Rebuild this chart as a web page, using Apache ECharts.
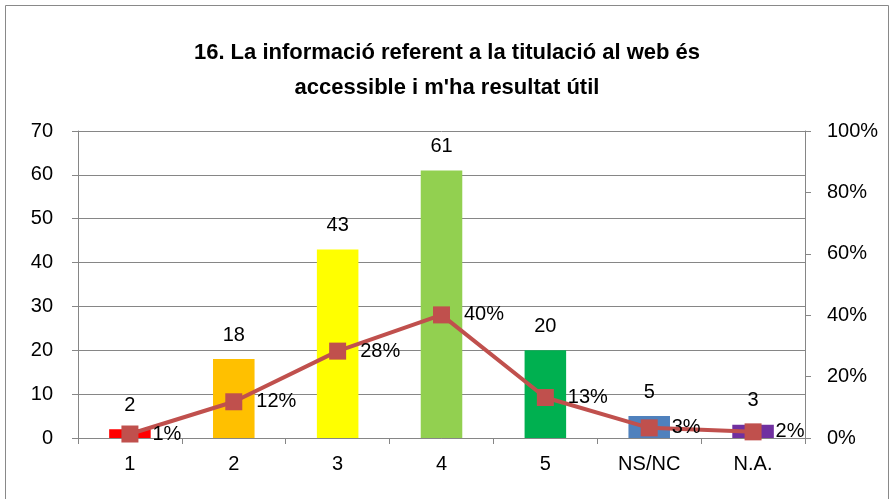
<!DOCTYPE html>
<html><head><meta charset="utf-8">
<script src="https://cdn.jsdelivr.net/npm/echarts@6/dist/echarts.min.js"></script>
<style>html,body{margin:0;padding:0;background:#fff}#c{width:894px;height:499px}</style>
</head><body><div id="c"></div>
<script>
const categories = ['1','2','3','4','5','NS/NC','N.A.'];
const counts = [2,18,43,61,20,5,3];
const percents = [1.3,11.8,28.3,40.1,13.2,3.3,2.0];
const barColors = ['#FF0000','#FFC000','#FFFF00','#92D050','#00B050','#4F81BD','#7030A0'];
const leftTicks = [0,70,10];
const rightTicks = [0,100,20];
const FONT = 'Liberation Sans';
const chart = echarts.init(document.getElementById('c'));
chart.setOption({
  animation:false,
  textStyle:{fontFamily:FONT},
  title:{text:'16. La informació referent a la titulació al web és\naccessible i m\'ha resultat útil',left:'center',top:30,
    textStyle:{fontFamily:FONT,fontWeight:'bold',fontSize:22,color:'#000',lineHeight:35}},
  graphic:[{type:'rect',shape:{x:5.5,y:5.5,width:883,height:500},style:{fill:'none',stroke:'#898989',lineWidth:1},silent:true}],
  grid:{left:78,right:89,top:131,bottom:61},
  xAxis:{type:'category',data:categories,
    axisLine:{lineStyle:{color:'#868686',width:1}},
    axisTick:{show:true,length:6,lineStyle:{color:'#868686'}},
    axisLabel:{color:'#000',fontSize:20,margin:16,fontFamily:FONT}},
  yAxis:[
    {type:'value',min:leftTicks[0],max:leftTicks[1],interval:leftTicks[2],
      axisLine:{show:true,lineStyle:{color:'#868686'}},
      axisTick:{show:true,length:6,lineStyle:{color:'#868686'}},
      splitLine:{lineStyle:{color:'#868686',width:1}},
      axisLabel:{color:'#000',fontSize:20,margin:25,fontFamily:FONT}},
    {type:'value',min:rightTicks[0],max:rightTicks[1],interval:rightTicks[2],position:'right',
      axisLine:{show:true,lineStyle:{color:'#868686'}},
      axisTick:{show:true,length:6,lineStyle:{color:'#868686'}},
      splitLine:{show:false},
      axisLabel:{color:'#000',fontSize:20,margin:22,formatter:'{value}%',fontFamily:FONT}}
  ],
  series:[
    {type:'bar',data:counts.map((v,i)=>({value:v,itemStyle:{color:barColors[i]}})),barWidth:'40%',
      label:{show:true,position:'top',distance:14,color:'#000',fontSize:20,fontFamily:FONT}},
    {type:'line',yAxisIndex:1,data:percents,symbol:'rect',symbolSize:17,
      lineStyle:{color:'#C0504D',width:4},itemStyle:{color:'#C0504D'},
      label:{show:true,position:'right',distance:14,color:'#000',fontSize:20,fontFamily:FONT,
        formatter:p=>Math.round(p.value)+'%'}}
  ]
});
</script></body></html>
